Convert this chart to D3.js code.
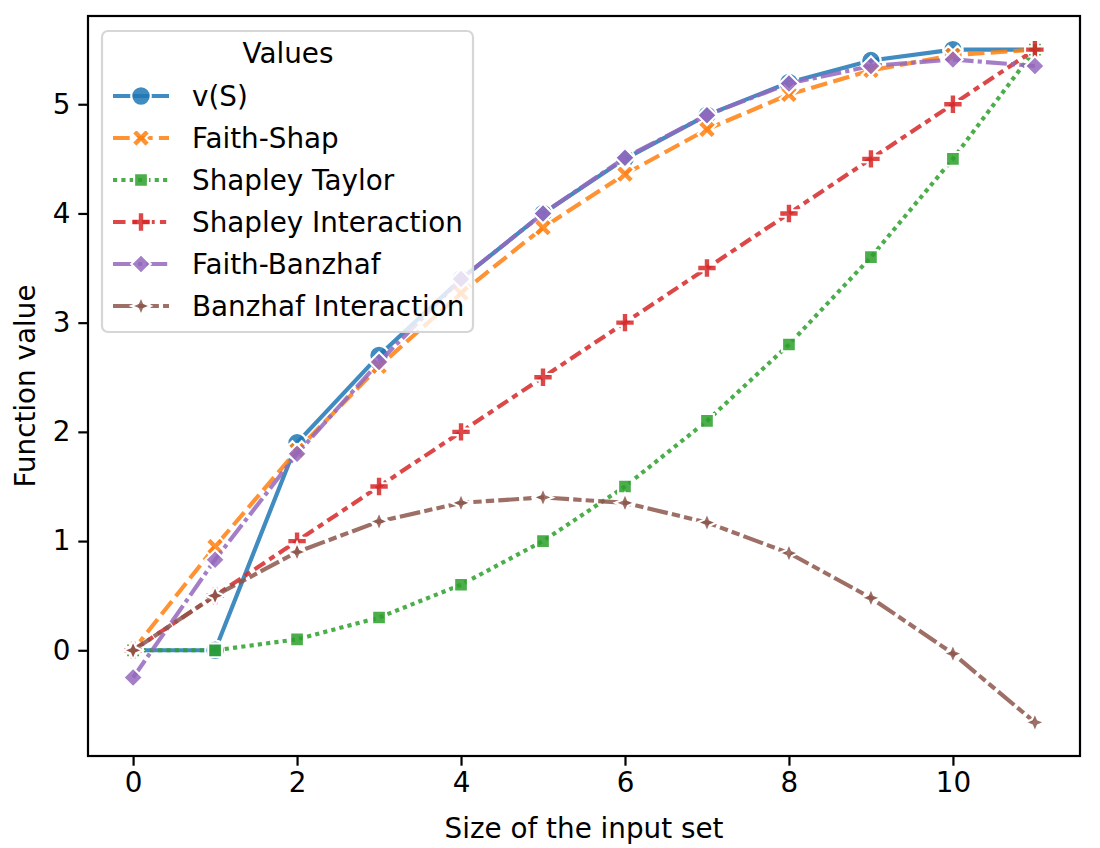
<!DOCTYPE html>
<html>
<head>
<meta charset="utf-8">
<script src="https://cdn.jsdelivr.net/npm/d3@7"></script>
<style>
  body { margin: 0; background: #fff; }
  text { font-family: "DejaVu Sans", sans-serif; }
</style>
</head>
<body>
<div id="wrapper"></div>
<script>
// data
const sizes = [0, 1, 2, 3, 4, 5, 6, 7, 8, 9, 10, 11];
const vS = [0, 0, 1.9, 2.7, 3.4, 4.0, 4.5, 4.9, 5.2, 5.4, 5.5, 5.5];
const faithShap = [0.0, 0.95, 1.83, 2.6, 3.27, 3.87, 4.36, 4.77, 5.09, 5.31, 5.45, 5.5];
const shapleyTaylor = [0, 0, 0.1, 0.3, 0.6, 1.0, 1.5, 2.1, 2.8, 3.6, 4.5, 5.5];
const shapleyInteraction = [0, 0.5, 1.0, 1.5, 2.0, 2.5, 3.0, 3.5, 4.0, 4.5, 5.0, 5.5];
const faithBanzhaf = [-0.25, 0.83, 1.8, 2.64, 3.4, 4.0, 4.51, 4.9, 5.19, 5.35, 5.41, 5.35];
const banzhafInteraction = [0, 0.5, 0.9, 1.18, 1.35, 1.4, 1.35, 1.17, 0.89, 0.48, -0.03, -0.66];
const seriesNames = ["v(S)", "Faith-Shap", "Shapley Taylor", "Shapley Interaction", "Faith-Banzhaf", "Banzhaf Interaction"];
const xTicks = [0, 2, 4, 6, 8, 10];
const yTicks = [0, 1, 2, 3, 4, 5];

const allSeries = [vS, faithShap, shapleyTaylor, shapleyInteraction, faithBanzhaf, banzhafInteraction];
const colors = ["#1f77b4", "#ff7f0e", "#2ca02c", "#d62728", "#9467bd", "#8c564b"];
const lw = 4.17; // 1.5pt
const dashes = [
    null,
    [4, 1.5],
    [1, 1],
    [3, 1.25, 1.5, 1.25],
    [5, 1, 1, 1],
    [5, 1, 2, 1, 2, 1]
].map(d => d ? d.map(v => v * lw).join(",") : null);

const ms = 19.5; // marker size (px)
function polyPath(pts) {
    return "M" + pts.map(p => p[0].toFixed(2) + "," + p[1].toFixed(2)).join("L") + "Z";
}
const plusPts = [[-1, -3], [1, -3], [1, -1], [3, -1], [3, 1], [1, 1], [1, 3], [-1, 3], [-1, 1], [-3, 1], [-3, -1], [-1, -1]]
    .map(p => [p[0] / 6 * ms, p[1] / 6 * ms]);
const rot = (pts, a) => pts.map(p => [p[0] * Math.cos(a) - p[1] * Math.sin(a), p[0] * Math.sin(a) + p[1] * Math.cos(a)]);
function starPts(r, inner) {
    const pts = [];
    for (let i = 0; i < 8; i++) {
        const a = -Math.PI / 2 + i * Math.PI / 4;
        const rr = i % 2 === 0 ? r : r * inner;
        pts.push([rr * Math.cos(a), rr * Math.sin(a)]);
    }
    return pts;
}
const r = ms / 2;
const markers = [
    d3.symbol(d3.symbolCircle, Math.PI * r * r)(),
    polyPath(rot(plusPts, Math.PI / 4)),
    polyPath([[-r * 0.707, -r * 0.707], [r * 0.707, -r * 0.707], [r * 0.707, r * 0.707], [-r * 0.707, r * 0.707]]),
    polyPath(plusPts),
    polyPath([[0, -r], [r, 0], [0, r], [-r, 0]]),
    polyPath(starPts(r, 0.42))
];

var dimention = {
    width: 1100,
    height: 848,
    margin: { top: 16, left: 88, bottom: 92, right: 20 }
};
dimention.boundedWidth = dimention.width - dimention.margin.left - dimention.margin.right;
dimention.boundedHeight = dimention.height - dimention.margin.top - dimention.margin.bottom;

const svg = d3.select("#wrapper").append("svg")
    .attr("width", dimention.width)
    .attr("height", dimention.height);
const bounded = svg.append("g")
    .attr("transform", `translate(${dimention.margin.left},${dimention.margin.top})`);

const xScaler = d3.scaleLinear().domain([-0.55, 11.55]).range([0, dimention.boundedWidth]);
const yScaler = d3.scaleLinear().domain([-0.968, 5.808]).range([dimention.boundedHeight, 0]);

const fontSize = "27.8px";

// x axis
const xAxis = bounded.append("g")
    .attr("transform", `translate(0,${dimention.boundedHeight})`)
    .call(d3.axisBottom(xScaler).tickValues(xTicks).tickFormat(d3.format("d")).tickSize(9.7).tickPadding(7));
// y axis
const yAxis = bounded.append("g")
    .call(d3.axisLeft(yScaler).tickValues(yTicks).tickFormat(d3.format("d")).tickSize(9.7).tickPadding(8));
[xAxis, yAxis].forEach(ax => {
    ax.select(".domain").remove();
    ax.selectAll("line").attr("stroke", "#000").attr("stroke-width", 2.2);
    ax.selectAll("text").attr("fill", "#000").style("font-size", fontSize).style("font-family", "DejaVu Sans");
});

// lines and markers
const lineGenerator = (vals) => d3.line()
    .x((d, i) => xScaler(sizes[i]))
    .y(d => yScaler(d))(vals);

allSeries.forEach((vals, k) => {
    const g = bounded.append("g");
    g.append("path")
        .attr("fill", "none")
        .attr("stroke", colors[k])
        .attr("stroke-opacity", 0.85)
        .attr("stroke-width", lw)
        .attr("stroke-dasharray", dashes[k])
        .attr("d", lineGenerator(vals));
    g.selectAll(".mk")
        .data(vals)
        .join("path")
        .attr("transform", (d, i) => `translate(${xScaler(sizes[i])},${yScaler(d)})`)
        .attr("d", markers[k])
        .attr("fill", colors[k])
        .attr("fill-opacity", 0.85)
        .attr("stroke", "#fff")
        .attr("stroke-width", 2.1);
});

// frame
bounded.append("rect")
    .attr("width", dimention.boundedWidth)
    .attr("height", dimention.boundedHeight)
    .attr("fill", "none")
    .attr("stroke", "#000")
    .attr("stroke-width", 2.2);

// axis labels
svg.append("text")
    .attr("x", dimention.margin.left + xScaler(5.5))
    .attr("y", 838)
    .attr("text-anchor", "middle")
    .style("font-size", fontSize)
    .text("Size of the input set");
svg.append("text")
    .attr("transform", `translate(35,${dimention.margin.top + dimention.boundedHeight / 2}) rotate(-90)`)
    .attr("text-anchor", "middle")
    .style("font-size", fontSize)
    .text("Function value");

// legend
const legend = svg.append("g").attr("transform", "translate(102,31)");
legend.append("rect")
    .attr("width", 371)
    .attr("height", 301)
    .attr("rx", 6)
    .attr("fill", "#fff")
    .attr("fill-opacity", 0.8)
    .attr("stroke", "#d6d6d6")
    .attr("stroke-width", 2.2);
legend.append("text")
    .attr("x", 186)
    .attr("y", 32)
    .attr("text-anchor", "middle")
    .style("font-size", fontSize)
    .text("Values");
seriesNames.forEach((name, k) => {
    const cy = 65 + k * 42;
    const row = legend.append("g").attr("transform", `translate(0,${cy})`);
    row.append("line")
        .attr("x1", 11).attr("x2", 67)
        .attr("stroke", colors[k])
        .attr("stroke-opacity", 0.85)
        .attr("stroke-width", lw)
        .attr("stroke-dasharray", dashes[k]);
    row.append("path")
        .attr("transform", "translate(39,0)")
        .attr("d", markers[k])
        .attr("fill", colors[k])
        .attr("fill-opacity", 0.85)
        .attr("stroke", "#fff")
        .attr("stroke-width", 2.1);
    row.append("text")
        .attr("x", 90)
        .attr("y", 10)
        .style("font-size", fontSize)
        .text(name);
});
</script>
</body>
</html>
